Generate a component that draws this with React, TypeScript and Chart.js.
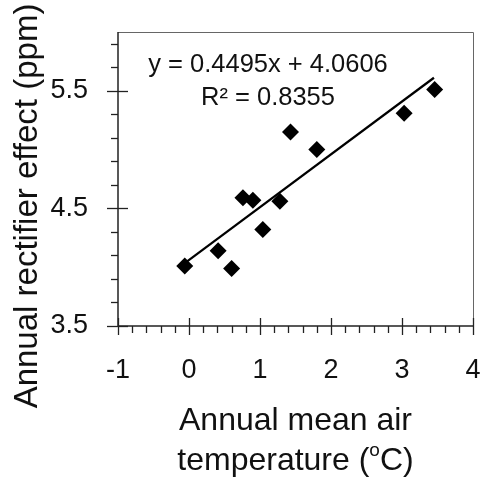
import React, { useEffect, useRef } from "react";
import { Chart, registerables } from "chart.js";

Chart.register(...registerables);

// ---- data ----
const tempC = [-0.06, 0.41, 0.6, 0.76, 0.9, 1.04, 1.28, 1.43, 1.8, 3.03, 3.46];
const rectifierPpm = [4.01, 4.14, 3.99, 4.59, 4.57, 4.32, 4.56, 5.15, 5.0, 5.31, 5.51];
const trendX = [-0.05, 3.45];
const trendY = [4.038, 5.611];
const xTickLabels = [-1, 0, 1, 2, 3, 4];
const yTickLabels = [3.5, 4.5, 5.5];
const xRange = [-1, 4];
const yRange = [3.5, 6.0];
const minorStep = 0.2;
const equationText = "y = 0.4495x + 4.0606";
const r2Text = "R\u00B2 = 0.8355";
const xTitleLine1 = "Annual mean air";
const xTitleLine2 = ["temperature (", "o", "C)"];
const yTitle = "Annual rectifier effect (ppm)";

const FONT = "'Liberation Sans', Arial, Helvetica, sans-serif";

const decorPlugin = {
  id: "decor",
  afterDraw(chart: any) {
    const { ctx, chartArea: a } = chart;
    const xs = chart.scales.x;
    const ys = chart.scales.y;
    ctx.save();

    // frame (top & right)
    ctx.strokeStyle = "#666";
    ctx.lineWidth = 1;
    ctx.beginPath();
    ctx.moveTo(a.left, a.top + 0.5);
    ctx.lineTo(a.right + 0.5, a.top + 0.5);
    ctx.lineTo(a.right + 0.5, a.bottom);
    ctx.stroke();

    // axes
    ctx.strokeStyle = "#222";
    ctx.lineWidth = 1.5;
    ctx.beginPath();
    ctx.moveTo(a.left, a.top);
    ctx.lineTo(a.left, a.bottom);
    ctx.lineTo(a.right + 1, a.bottom);
    ctx.stroke();

    // x ticks
    ctx.lineWidth = 1.3;
    const nx = Math.round((xRange[1] - xRange[0]) / minorStep);
    for (let i = 0; i <= nx; i++) {
      const v = xRange[0] + i * minorStep;
      const px = Math.round(xs.getPixelForValue(v)) + 0.5;
      const major = i % 5 === 0;
      ctx.beginPath();
      ctx.moveTo(px, a.bottom - (major ? 8 : 0));
      ctx.lineTo(px, a.bottom + (major ? 9 : 7));
      ctx.stroke();
    }
    // y ticks
    const ny = Math.round((yRange[1] - yRange[0]) / minorStep);
    for (let i = 0; i < ny; i++) {
      const v = yRange[0] + i * minorStep;
      const py = Math.round(ys.getPixelForValue(v)) + 0.5;
      const major = i % 5 === 0;
      ctx.beginPath();
      ctx.moveTo(a.left - (major ? 11 : 7), py);
      ctx.lineTo(a.left + (major ? 10 : 0), py);
      ctx.stroke();
    }

    // equation annotation
    ctx.fillStyle = "#111";
    ctx.textAlign = "center";
    ctx.textBaseline = "alphabetic";
    ctx.font = `25.5px ${FONT}`;
    const cx = a.left + 150;
    ctx.fillText(equationText, cx, 72);
    ctx.fillText(r2Text, cx, 105);

    // x title
    const xc = (a.left + a.right) / 2;
    const big = `32px ${FONT}`;
    const small = `19px ${FONT}`;
    ctx.font = big;
    ctx.fillText(xTitleLine1, xc, 430);
    const w1 = ctx.measureText(xTitleLine2[0]).width;
    const w3 = ctx.measureText(xTitleLine2[2]).width;
    ctx.font = small;
    const w2 = ctx.measureText(xTitleLine2[1]).width;
    let sx = xc - (w1 + w2 + w3) / 2;
    ctx.textAlign = "left";
    ctx.font = big;
    ctx.fillText(xTitleLine2[0], sx, 470);
    sx += w1;
    ctx.font = small;
    ctx.fillText(xTitleLine2[1], sx, 456);
    sx += w2;
    ctx.font = big;
    ctx.fillText(xTitleLine2[2], sx, 470);

    // y title
    ctx.save();
    ctx.translate(37, 206);
    ctx.rotate(-Math.PI / 2);
    ctx.textAlign = "center";
    ctx.font = `33px ${FONT}`;
    ctx.fillText(yTitle, 0, 0);
    ctx.restore();

    ctx.restore();
  },
};

export default function App() {
  const ref = useRef<HTMLCanvasElement | null>(null);

  useEffect(() => {
    if (!ref.current) return;
    const chart = new Chart(ref.current, {
      type: "scatter",
      data: {
        datasets: [
          {
            type: "line",
            label: "fit",
            data: trendX.map((x, i) => ({ x, y: trendY[i] })),
            borderColor: "#000",
            borderWidth: 2.2,
            pointRadius: 0,
            fill: false,
            order: 2,
          } as any,
          {
            label: "points",
            data: tempC.map((x, i) => ({ x, y: rectifierPpm[i] })),
            pointStyle: "rectRot",
            pointRadius: 8.5,
            backgroundColor: "#000",
            borderColor: "#000",
            borderWidth: 0,
            order: 1,
          },
        ],
      },
      options: {
        responsive: false,
        animation: false,
        devicePixelRatio: 1,
        layout: { autoPadding: false, padding: { top: 32, right: 8, left: 0, bottom: 0 } },
        plugins: {
          legend: { display: false },
          tooltip: { enabled: false },
        },
        scales: {
          x: {
            type: "linear",
            min: xRange[0],
            max: xRange[1],
            grid: { display: false },
            border: { display: false },
            afterBuildTicks: (s: any) => {
              s.ticks = xTickLabels.map((v) => ({ value: v }));
            },
            afterFit: (s: any) => {
              s.height = 155;
              s.paddingLeft = 0;
              s.paddingRight = 0;
              s.paddingTop = 0;
              s.paddingBottom = 0;
            },
            ticks: {
              color: "#111",
              padding: 20,
              maxRotation: 0,
              autoSkip: false,
              font: { family: FONT, size: 27 },
              callback: (v: any) => String(v),
            },
          },
          y: {
            type: "linear",
            min: yRange[0],
            max: yRange[1],
            grid: { display: false },
            border: { display: false },
            afterBuildTicks: (s: any) => {
              s.ticks = yTickLabels.map((v) => ({ value: v }));
            },
            afterFit: (s: any) => {
              s.width = 118;
              s.paddingLeft = 0;
              s.paddingRight = 0;
              s.paddingTop = 0;
              s.paddingBottom = 0;
            },
            ticks: {
              color: "#111",
              padding: 22,
              autoSkip: false,
              font: { family: FONT, size: 27 },
              callback: (v: any) => Number(v).toFixed(1),
            },
          },
        },
      },
      plugins: [decorPlugin],
    });
    return () => chart.destroy();
  }, []);

  return (
    <div style={{ position: "absolute", left: 0, top: 0, width: 481, height: 481, background: "#fff" }}>
      <canvas ref={ref} width={481} height={481} style={{ width: 481, height: 481, display: "block" }} />
    </div>
  );
}
